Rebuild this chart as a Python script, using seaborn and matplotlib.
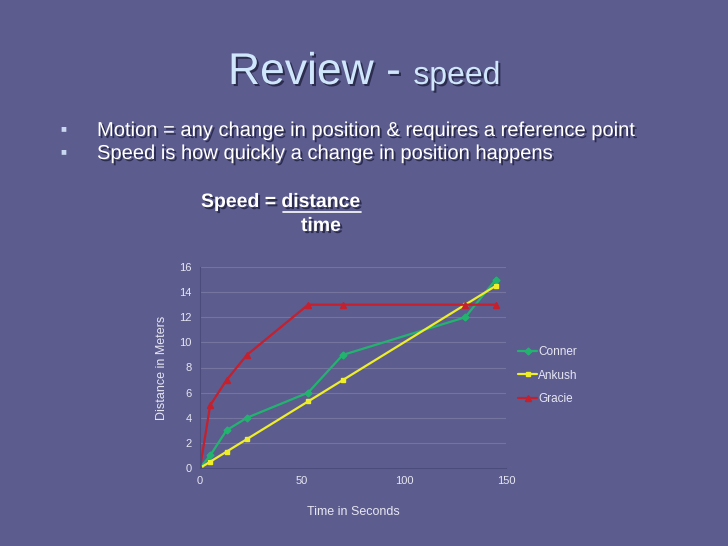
import pandas as pd
import numpy as np
import matplotlib
matplotlib.use("Agg")
import matplotlib.pyplot as plt
import matplotlib.patheffects as pe
from matplotlib.lines import Line2D
import seaborn as sns

# data
time_conner = [0, 5, 13, 23, 53, 70, 130, 145]
dist_conner = [0, 1, 3, 4, 6, 9, 12, 15]
time_ankush = [0, 5, 13, 23, 53, 70, 130, 145]
dist_ankush = [0, 0.5, 1.3, 2.3, 5.3, 7, 13, 14.5]
time_gracie = [0, 5, 13, 23, 53, 70, 130, 145]
dist_gracie = [0, 5, 7, 9, 13, 13, 13, 13]
names = ["Conner", "Ankush", "Gracie"]
x_ticks = [0, 50, 100, 150]
y_ticks = [0, 2, 4, 6, 8, 10, 12, 14, 16]

df = pd.concat([
    pd.DataFrame({"time": time_conner, "distance": dist_conner, "name": "Conner"}),
    pd.DataFrame({"time": time_ankush, "distance": dist_ankush, "name": "Ankush"}),
    pd.DataFrame({"time": time_gracie, "distance": dist_gracie, "name": "Gracie"}),
], ignore_index=True)

BG = "#5c5c8f"
TXT = "#e6e6f2"
colors = {"Conner": "#22b46e", "Ankush": "#eeee2a", "Gracie": "#c4202e"}
markers = {"Conner": "D", "Ankush": "s", "Gracie": "^"}

sns.set_style("white")
plt.rcParams["font.family"] = ["Liberation Sans", "DejaVu Sans"]

fig = plt.figure(figsize=(7.28, 5.46), dpi=100, facecolor=BG)
ax = fig.add_axes([200 / 728, 1 - 468 / 546, 306 / 728, 201 / 546])
ax.set_facecolor(BG)

sns.lineplot(data=df, x="time", y="distance", hue="name", style="name",
             hue_order=names, style_order=names, palette=colors,
             markers=markers, dashes=False, markersize=3.5,
             markeredgewidth=1, linewidth=1.6, ax=ax)
for ln in ax.lines:
    ln.set_markeredgecolor(ln.get_color())
    if ln.get_marker() == "^":
        ln.set_markersize(5)

ax.set_xlim(0, 150)
ax.set_ylim(0, 16)
ax.set_xticks(x_ticks)
ax.set_yticks(y_ticks)
ax.tick_params(length=0, labelsize=8, labelcolor=TXT, pad=6)
ax.set_xlabel("Time in Seconds", fontsize=9, color=TXT, labelpad=14)
ax.set_ylabel("Distance in Meters", fontsize=9, color=TXT, labelpad=8)
ax.grid(axis="y", color="white", alpha=0.15, linewidth=0.8)
for side in ["top", "right"]:
    ax.spines[side].set_visible(False)
for side in ["left", "bottom"]:
    ax.spines[side].set_color("#4c4c7c")
    ax.spines[side].set_linewidth(0.8)

leg = ax.legend(loc="upper left", bbox_to_anchor=(1.04, 0.605), frameon=False,
                fontsize=8.5, handlelength=1.6, handletextpad=0.1,
                labelspacing=0.95, borderaxespad=0, borderpad=0)
for t in leg.get_texts():
    t.set_color(TXT)
for h in leg.legend_handles:
    h.set_markeredgecolor(h.get_color())
    if h.get_marker() == "^":
        h.set_markersize(5)

# slide text
shadow = [pe.withSimplePatchShadow(offset=(1.5, -1.5), shadow_rgbFace="#202040", alpha=0.8)]
title_col = "#cfe6fb"
t1 = fig.text(228 / 728, 1 - 84 / 546, "Review - ", fontsize=32, color=title_col,
              ha="left", va="baseline", path_effects=shadow)
fig.canvas.draw()
r = fig.canvas.get_renderer()
bb = t1.get_window_extent(r)
fig.text(bb.x1 / 728, 1 - 84 / 546, "speed", fontsize=23, color=title_col,
         ha="left", va="baseline", path_effects=shadow)

bullets = ["Motion = any change in position & requires a reference point",
           "Speed is how quickly a change in position happens"]
for i, line in enumerate(bullets):
    yb = 1 - (136 + 23 * i) / 546
    fig.text(60 / 728, yb + 5 / 546, "\u25a0", fontsize=7, color="#c9d8f0",
             ha="left", va="baseline")
    fig.text(97 / 728, yb, line, fontsize=14.5, color="white",
             ha="left", va="baseline", path_effects=shadow)

s1 = fig.text(201 / 728, 1 - 207 / 546, "Speed = ", fontsize=14, fontweight="bold",
              color="white", ha="left", va="baseline", path_effects=shadow)
fig.canvas.draw()
b1 = s1.get_window_extent(r)
s2 = fig.text(b1.x1 / 728, 1 - 207 / 546, "distance", fontsize=14, fontweight="bold",
              color="white", ha="left", va="baseline", path_effects=shadow)
fig.canvas.draw()
b2 = s2.get_window_extent(r)
fig.add_artist(Line2D([(b2.x0 + 2) / 728, b2.x1 / 728], [(b2.y0 - 1) / 546] * 2,
                      color="white", linewidth=1.2))
fig.text((b2.x0 + b2.x1) / 2 / 728, 1 - 231 / 546, "time", fontsize=14,
         fontweight="bold", color="white", ha="center", va="baseline",
         path_effects=shadow)

fig.savefig("out.png", dpi=100, facecolor=BG)
